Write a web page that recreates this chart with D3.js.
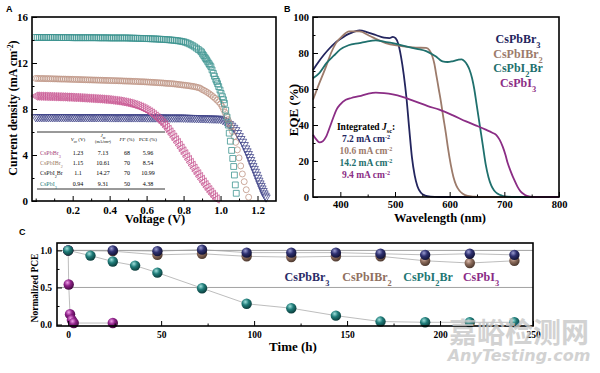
<!DOCTYPE html>
<html lang="en">
<head>
<meta charset="UTF-8">
<title>CsPbX3 solar cells: J-V, EQE and stability</title>
<script src="https://d3js.org/d3.v7.min.js"></script>
<style>
  body { margin: 0; background: #fff; }
  svg { display: block; font-family: "Liberation Serif", "Times New Roman", serif; }
</style>
</head>
<body>
<svg width="600" height="373"></svg>
<script>
// ---- data -------------------------------------------------------------
const seriesNames = ["CsPbBr3", "CsPbIBr2", "CsPbI2Br", "CsPbI3"];

// J-V curves (mA cm-2): flat part sampled every jvStep volts from 0 V,
// then the steep tail as [V, J] pairs read marker by marker
const jvStep = 0.01;
const jvBr3 = [
  7.3,7.3,7.3,7.3,7.3,7.3,7.3,7.3,7.3,7.3,
  7.3,7.3,7.3,7.3,7.3,7.3,7.3,7.3,7.3,7.3,
  7.29,7.29,7.29,7.29,7.29,7.29,7.29,7.29,7.29,7.29,
  7.29,7.29,7.29,7.29,7.29,7.29,7.29,7.29,7.29,7.29,
  7.28,7.28,7.28,7.28,7.28,7.28,7.28,7.28,7.28,7.28,
  7.28,7.28,7.28,7.28,7.28,7.28,7.28,7.28,7.28,7.28,
  7.27,7.27,7.27,7.27,7.27,7.27,7.27,7.27,7.27,7.27,
  7.26,7.26,7.26,7.26,7.26,7.26,7.26,7.26,7.26,7.26,
  7.25,7.25,7.24,7.24,7.23,7.23,7.22,7.22,7.21,7.21,
  7.2,7.2,7.19,7.19,7.18,7.18,7.17,7.17,7.16,7.16
];
const jvBr3Tail = [[1.0,7.15],[1.012,7.05],[1.024,6.95],[1.036,6.82],[1.048,6.7],[1.06,6.55],[1.071,6.37],[1.082,6.17],[1.092,5.92],[1.101,5.65],[1.11,5.4],[1.119,5.16],[1.128,4.88],[1.136,4.58],[1.143,4.33],[1.15,4.09],[1.157,3.83],[1.163,3.57],[1.169,3.3],[1.175,3.04],[1.182,2.8],[1.188,2.55],[1.195,2.29],[1.201,2.03],[1.207,1.78],[1.213,1.54],[1.219,1.32],[1.224,1.1],[1.23,0.88],[1.235,0.67],[1.241,0.48],[1.246,0.32]];

const jvIBr2 = [
  10.66,10.66,10.65,10.65,10.65,10.64,10.64,10.64,10.63,10.63,
  10.62,10.62,10.61,10.61,10.6,10.6,10.6,10.59,10.59,10.58,
  10.58,10.57,10.57,10.56,10.56,10.55,10.55,10.54,10.54,10.53,
  10.53,10.52,10.52,10.51,10.51,10.5,10.5,10.49,10.49,10.48,
  10.48,10.47,10.47,10.46,10.46,10.45,10.45,10.44,10.43,10.43,
  10.42,10.42,10.41,10.4,10.4,10.39,10.38,10.37,10.37,10.36,
  10.35,10.34,10.33,10.32,10.31,10.3,10.29,10.28,10.27,10.26,
  10.24,10.23,10.22,10.21,10.2,10.18,10.16,10.14,10.12,10.1,
  10.08,10.06,10.04,10.02,9.99,9.97,9.94,9.9,9.86,9.81,
  9.7,9.62,9.53,9.43,9.32,9.2,9.07,8.93,8.78,8.62
];
const jvIBr2Tail = [[1.0,8.45],[1.008,8.22],[1.016,7.98],[1.024,7.7],[1.032,7.4],[1.04,7.08],[1.048,6.75],[1.056,6.4],[1.064,6.05],[1.073,5.6],[1.082,5.1],[1.091,4.45],[1.1,3.75],[1.109,3.05],[1.118,2.35],[1.128,1.68],[1.139,0.98],[1.152,0.33]];

const jvI2Br = [
  14.22,14.22,14.22,14.22,14.22,14.22,14.22,14.22,14.22,14.22,
  14.22,14.22,14.21,14.21,14.21,14.21,14.21,14.21,14.21,14.21,
  14.2,14.2,14.2,14.2,14.2,14.2,14.2,14.2,14.2,14.2,
  14.2,14.2,14.2,14.2,14.19,14.19,14.19,14.19,14.19,14.19,
  14.18,14.18,14.18,14.18,14.18,14.18,14.18,14.18,14.18,14.18,
  14.17,14.17,14.16,14.16,14.15,14.15,14.14,14.14,14.13,14.13,
  14.12,14.12,14.11,14.1,14.1,14.09,14.08,14.07,14.06,14.05,
  14.04,14.03,14.02,14.0,13.99,13.97,13.95,13.93,13.91,13.88,
  13.85,13.8,13.74,13.67,13.59,13.5,13.4,13.29,13.17,13.05
];
const jvI2BrTail = [[0.897,12.95],[0.903,12.78],[0.909,12.65],[0.915,12.5],[0.92,12.38],[0.925,12.26],[0.931,12.1],[0.937,11.95],[0.942,11.82],[0.948,11.68],[0.954,11.4],[0.961,11.1],[0.967,10.85],[0.974,10.58],[0.979,10.4],[0.984,10.2],[0.99,9.95],[0.997,9.65],[1.003,9.35],[1.01,9.07],[1.016,8.8],[1.021,8.5],[1.028,7.9],[1.035,7.3],[1.042,6.6],[1.047,5.9],[1.053,5.2],[1.06,4.4],[1.066,3.7],[1.071,3.0],[1.075,2.26],[1.08,1.4],[1.085,0.67]];

const jvI3 = [
  9.12,9.12,9.11,9.11,9.1,9.1,9.09,9.09,9.08,9.08,
  9.07,9.07,9.06,9.06,9.05,9.05,9.04,9.03,9.03,9.02,
  9.01,9.0,9.0,8.99,8.98,8.97,8.96,8.95,8.94,8.93,
  8.92,8.91,8.9,8.89,8.88,8.87,8.86,8.84,8.83,8.82,
  8.8,8.78,8.76,8.74,8.72,8.7,8.67,8.64,8.61,8.58,
  8.54,8.5,8.46,8.41,8.36,8.3,8.24,8.17,8.1,8.02,
  7.93,7.84,7.74,7.63,7.51,7.38,7.24,7.1,6.95,6.79,
  6.62,6.42,6.22,6.0,5.78,5.55,5.32,5.08,4.84,4.6,
  4.35,4.1,3.85,3.6,3.35,3.1,2.85,2.6,2.36,2.12,
  1.88,1.65,1.42,1.2,0.98,0.77,0.57,0.37,0.18
];
const jvI3Tail = [];

// photovoltaic parameters table
const tableHead = ["Voc (V)", "Jsc", "FF (%)", "PCE (%)"];
const tableVoc = ["1.23", "1.15", "1.1", "0.94"];
const tableJsc = ["7.13", "10.61", "14.27", "9.31"];
const tableFF = ["68", "70", "70", "50"];
const tablePCE = ["5.96", "8.54", "10.99", "4.38"];

// EQE spectra [wavelength nm, EQE %]
const eqeBr3 = [[350,70.5],[360,75],[370,79],[380,82.5],[390,85.5],[400,87.8],[410,89.8],[420,91.2],[435,92.6],[450,91.5],[465,90],[480,88.5],[490,88.3],[496,89],[501,88.2],[506,85],[511,78],[516,68],[521,55],[526,38],[531,22],[536,12],[541,6],[547,2.5],[555,0.8],[565,0.2],[580,0],[800,0]];
const eqeIBr2 = [[350,54],[360,62],[374,72.6],[383,80],[392,85.5],[404,89.5],[416,92],[435,92],[453,89.6],[468,87.5],[483,85.5],[508,84],[538,83],[557,82.8],[563,81.5],[568,78.5],[572,74],[576,67],[580,60],[584,53],[588,45],[593,35.5],[597,27],[602,18],[607,11],[612,6.5],[618,3.5],[624,1.8],[633,0.6],[645,0.2],[660,0],[800,0]];
const eqeI2Br = [[350,66],[362,69],[375,74.5],[388,78.5],[400,82],[415,84.3],[435,85.5],[450,86.5],[465,87],[480,86.3],[496,85.5],[520,83.7],[540,82.3],[557,81],[567,79.5],[575,78],[581,76.5],[587,75.4],[596,75],[605,75.4],[615,76.2],[622,76.5],[627,75.5],[632,73.5],[636,71],[641,66],[645,60],[649,52],[653,44],[657,36],[661,28],[666,18],[671,11],[676,6.5],[681,3.8],[688,1.8],[696,0.7],[706,0.2],[720,0],[800,0]];
const eqeI3 = [[350,34.6],[356,32],[362,30.4],[368,31],[374,33.5],[381,39],[387,44],[393,48.5],[400,51.5],[410,54],[420,55],[435,56],[450,57.3],[465,58],[480,57.7],[496,57],[515,55.5],[538,53],[560,50.5],[581,48.5],[605,45.5],[630,42],[650,39.5],[666,37.4],[678,35.7],[685,34.5],[691,32],[697,28],[702,23.5],[706,19],[712,14],[718,9.6],[724,5.8],[730,3],[737,1.3],[745,0.3],[755,0],[800,0]];
const integratedJsc = ["7.2", "10.6", "14.2", "9.4"];

// stability: time (h) and normalized PCE
const timeBr3 = [0,24,48,72,96,120,144,168,192,216,240];
const pceBr3 = [1.0,1.0,0.99,1.01,0.97,0.97,0.97,0.955,0.94,0.955,0.94];
const timeIBr2 = [0,24,48,72,96,120,144,168,192,216,240];
const pceIBr2 = [1.0,0.99,0.94,0.955,0.92,0.91,0.92,0.92,0.86,0.83,0.86];
const timeI2Br = [0,12,24,36,48,72,96,120,144,168,192,216,240];
const pceI2Br = [1.0,0.93,0.85,0.795,0.70,0.49,0.28,0.22,0.12,0.04,0.03,0.03,0.03];
const timeI3 = [0,0.3,1,2,3,24];
const pceI3 = [1.0,0.54,0.14,0.06,0.02,0.02];

// ---- helpers ------------------------------------------------------------
const svg = d3.select("svg");
const serif = '"Liberation Serif", "Times New Roman", serif';

// writes a formula like CsPbI2Br with the digits as subscripts
function chem(text, str) {
  str.split(/(\d)/).filter(s => s).forEach(p => {
    const t = text.append("tspan").text(p);
    if (/\d/.test(p)) t.attr("baseline-shift", "sub").attr("font-size", "70%");
  });
  return text;
}

function styleAxis(g, size) {
  g.attr("font-family", serif).attr("font-size", size).attr("font-weight", "bold");
  g.select(".domain").remove();
  g.selectAll(".tick line").attr("stroke", "#000").attr("stroke-width", 1);
  g.selectAll(".tick text").attr("fill", "#000");
}

function frame(x, y) {
  svg.append("rect")
    .attr("x", x.range()[0]).attr("y", y.range()[1])
    .attr("width", x.range()[1] - x.range()[0])
    .attr("height", y.range()[0] - y.range()[1])
    .attr("fill", "none").attr("stroke", "#000").attr("stroke-width", 1.6);
}

function axes(x, y, o) {
  const bottom = y.range()[0], left = x.range()[0];
  styleAxis(svg.append("g").attr("transform", `translate(0,${bottom})`)
    .call(d3.axisBottom(x).tickValues(o.xMinor).tickSize(-2.5).tickFormat("")), o.size);
  styleAxis(svg.append("g").attr("transform", `translate(${left},0)`)
    .call(d3.axisLeft(y).tickValues(o.yMinor).tickSize(-2.5).tickFormat("")), o.size);
  styleAxis(svg.append("g").attr("transform", `translate(0,${bottom})`)
    .call(d3.axisBottom(x).tickValues(o.xMajor).tickSize(-5).tickPadding(o.xPad).tickFormat(o.xFmt)), o.size);
  styleAxis(svg.append("g").attr("transform", `translate(${left},0)`)
    .call(d3.axisLeft(y).tickValues(o.yMajor).tickSize(-5).tickPadding(o.yPad).tickFormat(o.yFmt)), o.size);
}

function label(x, y, txt, size, rotate) {
  return svg.append("text")
    .attr("transform", `translate(${x},${y})` + (rotate ? " rotate(-90)" : ""))
    .attr("text-anchor", "middle").attr("font-size", size).attr("font-weight", "bold")
    .text(txt);
}

function panelLetter(x, y, t) {
  svg.append("text").attr("x", x).attr("y", y).text(t)
    .attr("font-family", '"Liberation Sans", Arial, sans-serif')
    .attr("font-size", 9).attr("font-weight", "bold");
}

// ---- panel A: J-V -------------------------------------------------------
const xA = d3.scaleLinear([-0.02, 1.3], [32, 276]);
const yA = d3.scaleLinear([0, 16], [201, 17]);

const jvSets = [
  { flat: jvBr3, tail: jvBr3Tail, color: "#43468a", sym: d3.symbolTriangle, size: 30, rot: 180 },
  { flat: jvI3, tail: jvI3Tail, color: "#c85792", sym: d3.symbolTriangle, size: 30, rot: -90 },
  { flat: jvIBr2, tail: jvIBr2Tail, color: "#bf9585", sym: d3.symbolCircle, size: 28, rot: 0 },
  { flat: jvI2Br, tail: jvI2BrTail, color: "#3e9490", sym: d3.symbolSquare, size: 34, rot: 0 }
];

const gA = svg.append("g");
jvSets.forEach(s => {
  const pts = s.flat.map((j, i) => [i * jvStep, j]).concat(s.tail);
  gA.append("g").selectAll("path")
    .data(pts)
    .join("path")
    .attr("d", d3.symbol(s.sym, s.size))
    .attr("transform", d => `translate(${xA(d[0])},${yA(d[1])}) rotate(${s.rot})`)
    .attr("fill", "none")
    .attr("stroke", s.color)
    .attr("stroke-width", 0.8);
});

axes(xA, yA, {
  size: 11,
  xMajor: [0.2, 0.4, 0.6, 0.8, 1.0, 1.2], xMinor: [0, 0.1, 0.3, 0.5, 0.7, 0.9, 1.1],
  yMajor: [0, 4, 8, 12, 16], yMinor: [2, 6, 10, 14],
  xPad: 5, yPad: 4, xFmt: d3.format(".1f"), yFmt: d3.format("d")
});
frame(xA, yA);

const yLabA = label(17, 108, "Current density (mA cm", 12, true);
yLabA.append("tspan").attr("baseline-shift", "super").attr("font-size", "65%").text("-2");
yLabA.append("tspan").text(")");
label(155, 223, "Voltage (V)", 12.5);

// table
const tblColors = ["#a8467a", "#9c7b5f", "#222", "#2b7e7c"];
const tblX = [78, 103, 127, 148];
const tblRowY = [154.5, 164.5, 175, 186];
const tbl = svg.append("g").attr("font-size", 6);
tbl.append("line").attr("x1", 37).attr("x2", 165).attr("y1", 132).attr("y2", 132).attr("stroke", "#000").attr("stroke-width", 0.8);
tbl.append("line").attr("x1", 37).attr("x2", 165).attr("y1", 189).attr("y2", 189).attr("stroke", "#000").attr("stroke-width", 0.8);
tableHead.forEach((h, i) => {
  const t = tbl.append("text").attr("x", tblX[i]).attr("y", 141).attr("text-anchor", "middle").attr("font-size", 5);
  if (i === 0) {
    t.append("tspan").attr("font-style", "italic").text("V");
    t.append("tspan").attr("baseline-shift", "sub").attr("font-size", "70%").text("oc");
    t.append("tspan").text(" (V)");
  } else if (i === 1) {
    t.attr("y", 137);
    t.append("tspan").attr("font-style", "italic").text("J");
    t.append("tspan").attr("baseline-shift", "sub").attr("font-size", "70%").text("sc");
    tbl.append("text").attr("x", tblX[i]).attr("y", 142.5).attr("text-anchor", "middle")
      .attr("font-size", 4).text("(mA/cm²)");
  } else if (i === 2) {
    t.append("tspan").attr("font-style", "italic").text("FF");
    t.append("tspan").text(" (%)");
  } else t.text(h);
});
seriesNames.forEach((n, r) => {
  chem(tbl.append("text").attr("x", 40).attr("y", tblRowY[r]).attr("fill", tblColors[r]), n);
  [tableVoc[r], tableJsc[r], tableFF[r], tablePCE[r]].forEach((v, c) => {
    tbl.append("text").attr("x", tblX[c]).attr("y", tblRowY[r]).attr("text-anchor", "middle").text(v);
  });
});

panelLetter(6, 12, "A");

// ---- panel B: EQE -------------------------------------------------------
const xB = d3.scaleLinear([350, 800], [313, 559]);
const yB = d3.scaleLinear([0, 100], [197, 17]);
const colorsB = ["#23255e", "#9c7b6b", "#1f706d", "#8b2d85"];
const eqeSets = [eqeBr3, eqeIBr2, eqeI2Br, eqeI3];

const lineB = d3.line().x(d => xB(d[0])).y(d => yB(d[1])).curve(d3.curveMonotoneX);
svg.append("g").selectAll("path")
  .data(eqeSets)
  .join("path")
  .attr("d", lineB)
  .attr("fill", "none")
  .attr("stroke", (d, i) => colorsB[i])
  .attr("stroke-width", 1.8);

axes(xB, yB, {
  size: 10.5,
  xMajor: [400, 500, 600, 700, 800], xMinor: [450, 550, 650, 750],
  yMajor: [0, 20, 40, 60, 80, 100], yMinor: [10, 30, 50, 70, 90],
  xPad: 4, yPad: 4, xFmt: d3.format("d"), yFmt: d3.format("d")
});
frame(xB, yB);

label(298, 110, "EQE (%)", 13, true);
label(440, 222, "Wavelength (nm)", 12.5);

const legB = svg.append("g").attr("font-size", 12).attr("font-weight", "bold").attr("text-anchor", "middle");
seriesNames.forEach((n, i) => {
  chem(legB.append("text").attr("x", 518).attr("y", 43 + i * 14.7).attr("fill", colorsB[i]), n);
});

const jscG = svg.append("g").attr("font-size", 9.5).attr("font-weight", "bold").attr("text-anchor", "middle");
const jt = jscG.append("text").attr("x", 366).attr("y", 129.5);
jt.append("tspan").text("Integrated ");
jt.append("tspan").attr("font-style", "italic").text("J");
jt.append("tspan").attr("baseline-shift", "sub").attr("font-size", "65%").text("sc");
jt.append("tspan").text(":");
integratedJsc.forEach((v, i) => {
  const t = jscG.append("text").attr("x", 366).attr("y", 142 + i * 12).attr("fill", colorsB[i]);
  t.append("tspan").text(v + " mA cm");
  t.append("tspan").attr("baseline-shift", "super").attr("font-size", "65%").text("-2");
});

panelLetter(284, 12, "B");

// ---- panel C: stability -------------------------------------------------
const xC = d3.scaleLinear([-6, 250], [57, 533]);
const yC = d3.scaleLinear([-0.02, 1.1], [326, 243]);
const ballColors = [
  ["#9a9cd0", "#2e3070", "#111233"],
  ["#dcbcae", "#8c6c5c", "#4a362c"],
  ["#9fe0dc", "#1f7c79", "#0b3a39"],
  ["#f2a0ea", "#8e2188", "#42093f"]
];
const stabSets = [
  { t: timeIBr2, v: pceIBr2, c: 1 },
  { t: timeBr3, v: pceBr3, c: 0 },
  { t: timeI3, v: pceI3, c: 3 },
  { t: timeI2Br, v: pceI2Br, c: 2 }
];

const defs = svg.append("defs");
ballColors.forEach((c, i) => {
  const g = defs.append("radialGradient").attr("id", "ball" + i)
    .attr("cx", "38%").attr("cy", "32%").attr("r", "70%");
  g.append("stop").attr("offset", "0%").attr("stop-color", c[0]);
  g.append("stop").attr("offset", "45%").attr("stop-color", c[1]);
  g.append("stop").attr("offset", "100%").attr("stop-color", c[2]);
});

svg.append("g").selectAll("line")
  .data([0.5, 1.0])
  .join("line")
  .attr("x1", xC.range()[0]).attr("x2", xC.range()[1])
  .attr("y1", d => yC(d)).attr("y2", d => yC(d))
  .attr("stroke", "#8a8a8a").attr("stroke-width", 0.8);

const lineC = d3.line().x(d => xC(d[0])).y(d => yC(d[1]));
stabSets.forEach(s => {
  const pts = s.t.map((t, i) => [t, s.v[i]]);
  svg.append("path").attr("d", lineC(pts)).attr("fill", "none")
    .attr("stroke", "#a0a0a0").attr("stroke-width", 0.7);
});
stabSets.forEach(s => {
  const pts = s.t.map((t, i) => [t, s.v[i]]);
  svg.append("g").selectAll("circle")
    .data(pts)
    .join("circle")
    .attr("cx", d => xC(d[0])).attr("cy", d => yC(d[1]))
    .attr("r", 5.2)
    .attr("fill", `url(#ball${s.c})`);
});

axes(xC, yC, {
  size: 9.5,
  xMajor: [0, 50, 100, 150, 200, 250], xMinor: [25, 75, 125, 175, 225],
  yMajor: [0, 0.5, 1.0], yMinor: [0.25, 0.75],
  xPad: 5, yPad: 5, xFmt: d3.format("d"), yFmt: d3.format(".1f")
});
frame(xC, yC);

label(38, 288, "Normalized PCE", 9.5, true);
label(293, 351, "Time (h)", 13);

const colorsC = ["#2a2c68", "#8f6f60", "#1f7774", "#8a2a85"];
const legCX = [307, 367, 428, 481];
const legC = svg.append("g").attr("font-size", 12).attr("font-weight", "bold").attr("text-anchor", "middle");
seriesNames.forEach((n, i) => {
  chem(legC.append("text").attr("x", legCX[i]).attr("y", 281).attr("fill", colorsC[i]), n);
});

panelLetter(19, 235, "C");

// ---- watermark ------------------------------------------------------------
svg.append("text").attr("x", 519).attr("y", 343).attr("text-anchor", "middle")
  .attr("font-family", '"Noto Sans CJK SC", sans-serif').attr("font-size", 28).attr("font-weight", "bold")
  .attr("fill", "#c8c8c8").attr("opacity", 0.8).text("嘉峪检测网");
svg.append("text").attr("x", 519).attr("y", 361).attr("text-anchor", "middle")
  .attr("font-family", '"DejaVu Sans", sans-serif').attr("font-size", 16).attr("font-weight", "bold")
  .attr("font-style", "italic").attr("fill", "#c8c8c8").attr("opacity", 0.8).text("AnyTesting.com");
</script>
</body>
</html>
